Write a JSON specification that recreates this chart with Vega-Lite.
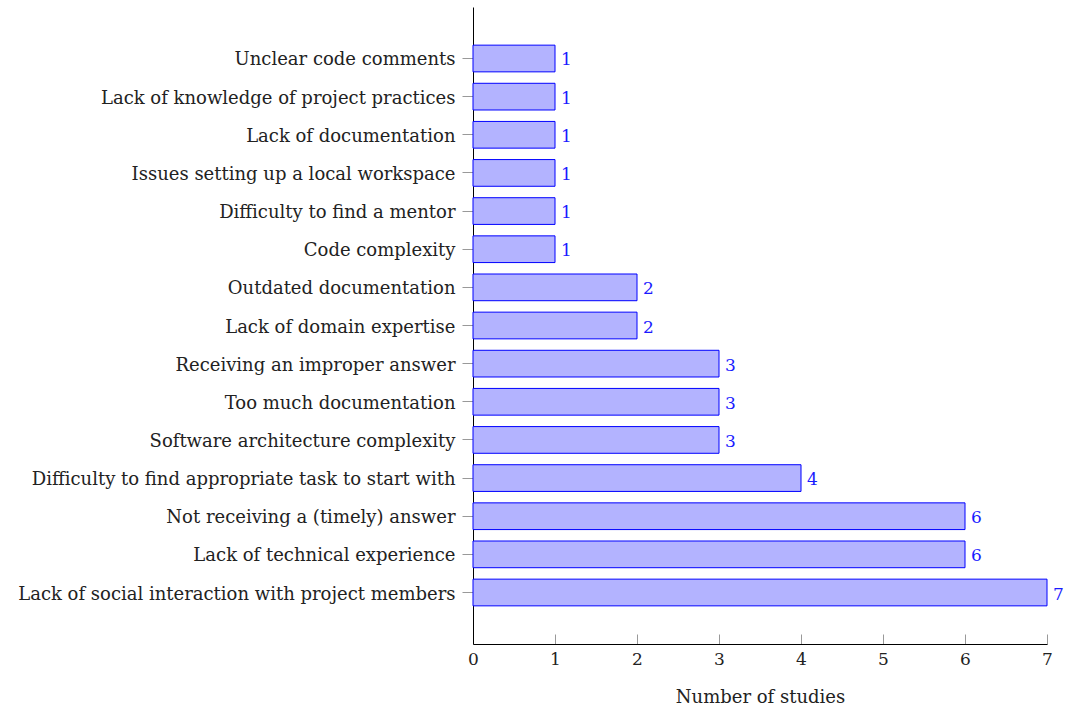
{
  "$schema": "https://vega.github.io/schema/vega-lite/v6.json",
  "width": 574,
  "height": 637,
  "padding": {"left": 17, "top": 7, "right": 10, "bottom": 2},
  "background": "white",
  "config": {
    "view": {"stroke": null},
    "font": "DejaVu Serif",
    "axis": {"labelFont": "DejaVu Serif", "titleFont": "DejaVu Serif", "labelColor": "#222", "titleColor": "#222", "titleFontWeight": "normal"}
  },
  "data": {
    "values": [
      {"challenge": "Unclear code comments", "studies": 1},
      {"challenge": "Lack of knowledge of project practices", "studies": 1},
      {"challenge": "Lack of documentation", "studies": 1},
      {"challenge": "Issues setting up a local workspace", "studies": 1},
      {"challenge": "Difficulty to find a mentor", "studies": 1},
      {"challenge": "Code complexity", "studies": 1},
      {"challenge": "Outdated documentation", "studies": 2},
      {"challenge": "Lack of domain expertise", "studies": 2},
      {"challenge": "Receiving an improper answer", "studies": 3},
      {"challenge": "Too much documentation", "studies": 3},
      {"challenge": "Software architecture complexity", "studies": 3},
      {"challenge": "Difficulty to find appropriate task to start with", "studies": 4},
      {"challenge": "Not receiving a (timely) answer", "studies": 6},
      {"challenge": "Lack of technical experience", "studies": 6},
      {"challenge": "Lack of social interaction with project members", "studies": 7}
    ]
  },
  "encoding": {
    "y": {
      "field": "challenge",
      "type": "nominal",
      "sort": null,
      "scale": {"paddingInner": 0.3, "paddingOuter": 1.063},
      "axis": {
        "title": null,
        "domainColor": "black",
        "domainWidth": 1,
        "tickColor": "#999",
        "tickSize": 11,
        "labelPadding": 7,
        "labelOffset": 2,
        "labelFontSize": 18,
        "labelLimit": 600
      }
    },
    "x": {
      "field": "studies",
      "type": "quantitative",
      "scale": {"domain": [0, 7], "nice": false},
      "axis": {
        "title": "Number of studies",
        "values": [0, 1, 2, 3, 4, 5, 6, 7],
        "format": "d",
        "grid": false,
        "labelFlush": false,
        "domainColor": "black",
        "domainWidth": 1,
        "tickColor": "#999",
        "tickSize": -10,
        "labelPadding": 17,
        "labelFontSize": 17,
        "titleFontSize": 18,
        "titlePadding": 21
      }
    }
  },
  "layer": [
    {
      "mark": {"type": "bar", "fill": "#b3b3ff", "stroke": "#0000ff", "strokeWidth": 1}
    },
    {
      "mark": {"type": "text", "align": "left", "baseline": "middle", "dx": 6, "dy": 2, "fontSize": 17, "color": "#1a1aff", "font": "DejaVu Serif"},
      "encoding": {"text": {"field": "studies", "type": "quantitative"}}
    }
  ]
}
